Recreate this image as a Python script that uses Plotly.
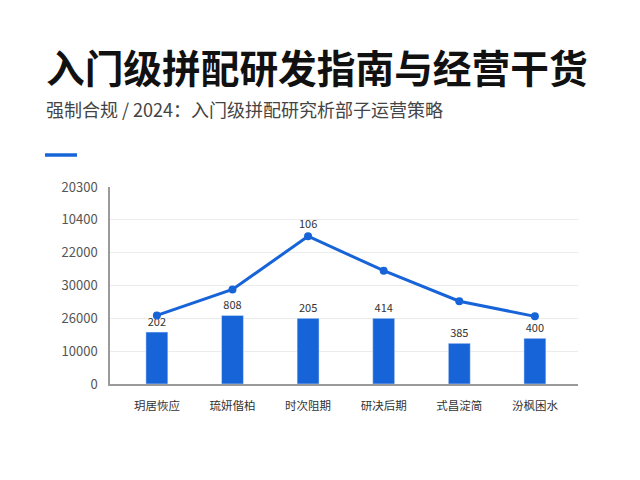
import plotly.graph_objects as go

categories = ["玥居恢应", "琉妍偕柏", "时次阻期", "研决后期", "式昌淀简", "汾枫困水"]
bar_values = [15800, 20900, 20000, 20000, 12400, 13900]
bar_labels = ["202", "808", "205", "414", "385", "400"]
line_values = [20900, 28800, 45000, 34500, 25200, 20600]
line_labels = ["", "", "106", "", "", ""]
y_tickvals = [0, 10000, 20000, 30000, 40000, 50000, 60000]
y_ticktext = ["0", "10000", "26000", "30000", "22000", "10400", "20300"]

title_text = "入门级拼配研发指南与经营干货"
subtitle_text = "强制合规 / 2024：入门级拼配研究析部子运营策略"

BLUE = "#1764d8"
FONT = "Noto Sans CJK SC"

OFF = 8  # page offset of the figure
W, H = 640, 480
L = 110 - OFF
T = 187 - OFF
B = H - (384 - OFF)
R = W - (578 - OFF)
pw, ph = W - L - R, H - T - B

def px(x):
    return (x - OFF - L) / pw

def py(y):
    return (H - B - (y - OFF)) / ph

fig = go.Figure()
fig.add_trace(go.Bar(
    x=categories, y=bar_values, text=bar_labels, textposition="outside",
    marker=dict(color=BLUE), width=0.29, cliponaxis=False,
    textfont=dict(size=11, color="#333333", family=FONT),
))
fig.add_trace(go.Scatter(
    x=categories, y=line_values, mode="lines+markers+text", text=line_labels,
    textposition="top center", cliponaxis=False,
    line=dict(color=BLUE, width=3), marker=dict(color=BLUE, size=8),
    textfont=dict(size=11, color="#333333", family=FONT),
))

fig.update_layout(
    width=W, height=H, margin=dict(l=L, r=R, t=T, b=B),
    paper_bgcolor="white", plot_bgcolor="white", showlegend=False,
    font=dict(family=FONT, color="#444444"),
    xaxis=dict(range=[-0.62, 5.57], showline=True, linecolor="#9a9a9a", linewidth=1.5,
               showgrid=False, ticks="", tickfont=dict(size=11.5, color="#333333"),
               ticklabelstandoff=10),
    yaxis=dict(range=[0, 60000], tickvals=y_tickvals, ticktext=y_ticktext,
               showline=True, linecolor="#9a9a9a", linewidth=1.5,
               showgrid=True, gridcolor="#ececec", gridwidth=1, zeroline=False,
               ticks="", tickfont=dict(size=13, color="#555555"), ticklabelstandoff=8),
    annotations=[
        dict(text=f"<b>{title_text}</b>", xref="paper", yref="paper",
             x=px(44), y=py(66), xanchor="left", yanchor="middle", showarrow=False,
             font=dict(size=38.7, color="#111111", family=FONT)),
        dict(text=subtitle_text, xref="paper", yref="paper",
             x=px(44), y=py(109), xanchor="left", yanchor="middle", showarrow=False,
             font=dict(size=18, color="#444444", family=FONT)),
    ],
    shapes=[
        dict(type="line", xref="paper", yref="paper", x0=px(45), x1=px(77),
             y0=py(155), y1=py(155), line=dict(color=BLUE, width=3.5)),
    ],
)

fig.write_html("out.html")
